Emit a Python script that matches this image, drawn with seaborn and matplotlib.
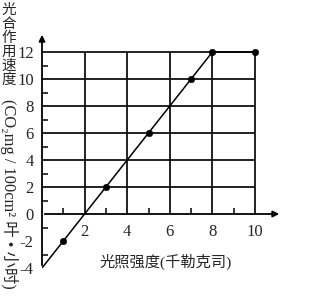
import matplotlib
matplotlib.use("Agg")
import matplotlib.pyplot as plt
import seaborn as sns
import pandas as pd

sns.set_style("white")
plt.rcParams['font.family'] = ['Liberation Serif', 'Noto Sans CJK SC']

# data
light = [0, 1, 3, 5, 7, 8, 10]
rate = [-4, -2, 2, 6, 10, 12, 12]
pt_light = [1, 3, 5, 7, 8, 10]
pt_rate = [-2, 2, 6, 10, 12, 12]
xticks = [2, 4, 6, 8, 10]
yticks = [-4, -2, 0, 2, 4, 6, 8, 10, 12]
grid_x = [2, 4, 6, 8, 10]
grid_y = [2, 4, 6, 8, 10, 12]

df = pd.DataFrame({"x": light, "y": rate})
dp = pd.DataFrame({"x": pt_light, "y": pt_rate})

fig = plt.figure(figsize=(3.1, 3.0), dpi=100)
ax = fig.add_axes([42/310, 32/300, 240/310, 236/300])
ax.set_xlim(0, 240/21.3)
ax.set_ylim(-4, -4 + 236/13.5)

# grid
ax.hlines(grid_y, 0, max(grid_x), color='#111111', lw=1.3, zorder=1)
ax.vlines(grid_x, 0, max(grid_y), color='#111111', lw=1.3, zorder=1)

sns.lineplot(data=df, x="x", y="y", ax=ax, color='black', lw=1.1, zorder=3)
sns.scatterplot(data=dp, x="x", y="y", ax=ax, color='black', s=22, zorder=4, edgecolor='black')

for s in ax.spines.values():
    s.set_visible(False)

# axes with arrows
ax.annotate('', xy=(ax.get_xlim()[1], 0), xytext=(0, 0),
            arrowprops=dict(arrowstyle='-|>', color='black', lw=1.3, mutation_scale=9), zorder=5)
ax.annotate('', xy=(0, ax.get_ylim()[1]), xytext=(0, -4),
            arrowprops=dict(arrowstyle='-|>', color='black', lw=1.3, mutation_scale=9), zorder=5)

ax.set_xticks(xticks)
ax.set_xticklabels([str(v) for v in xticks])
ax.set_yticks(yticks)
ax.set_yticklabels([str(v) for v in yticks])
ax.set_xticks([1, 3, 5, 7, 9], minor=True)
ax.set_yticks([-3, -1, 1, 3, 5, 7, 9, 11], minor=True)
ax.tick_params(axis='both', which='major', length=0, labelsize=12, pad=6)
ax.tick_params(axis='x', which='major', pad=7)
ax.tick_params(axis='both', which='minor', direction='in', length=4, width=1.1, color='black')
ax.xaxis.set_ticks_position('bottom')
ax.yaxis.set_ticks_position('left')
ax.spines['bottom'].set_position(('data', 0))
ax.spines['left'].set_position(('data', 0))
ax.set_xlabel('')
ax.set_ylabel('')

cjk = ['Noto Sans CJK SC', 'Liberation Serif']
fig.text(166/310, 1 - 262/300, '光照强度(千勒克司)', ha='center', va='center',
         fontsize=11, family=['Liberation Serif', 'Noto Sans CJK SC'])
fig.text(9/310, 1 - 3/300, '光\n合\n作\n用\n速\n度', ha='center', va='top',
         fontsize=10.5, family=cjk, linespacing=1.0)
fig.text(9/310, 1 - 99/300, '(CO₂mg / 100cm² 叶 • 小时)', ha='center', va='top',
         rotation=270, fontsize=11.8, family=['Liberation Serif', 'Noto Sans CJK SC'])

fig.savefig('out.png', dpi=100)
